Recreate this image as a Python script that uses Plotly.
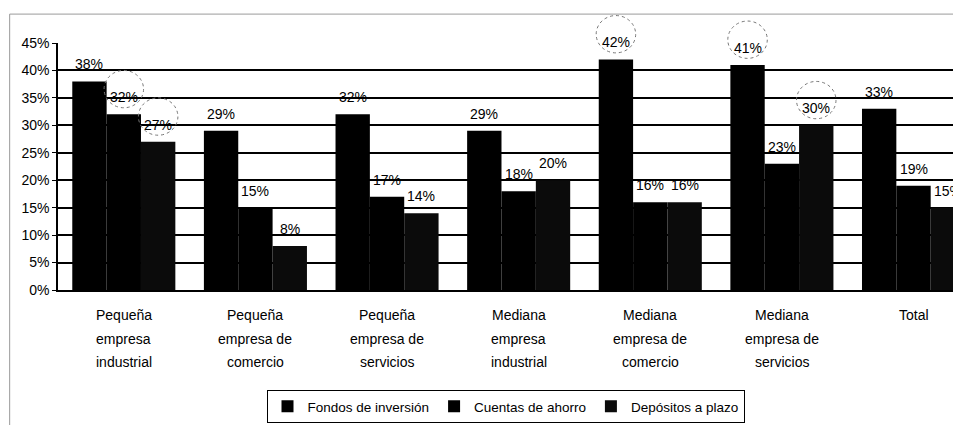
import plotly.graph_objects as go

CATEGORIAS = [
    ["Pequeña", "empresa", "industrial"],
    ["Pequeña", "empresa de", "comercio"],
    ["Pequeña", "empresa de", "servicios"],
    ["Mediana", "empresa", "industrial"],
    ["Mediana", "empresa de", "comercio"],
    ["Mediana", "empresa de", "servicios"],
    ["Total"],
]

FONDOS_INVERSION = [38, 29, 32, 29, 42, 41, 33]
CUENTAS_AHORRO = [32, 15, 17, 18, 16, 23, 19]
DEPOSITOS_PLAZO = [27, 8, 14, 20, 16, 30, 15]

SERIES = [
    ("Fondos de inversión", FONDOS_INVERSION, "#000000"),
    ("Cuentas de ahorro", CUENTAS_AHORRO, "#000000"),
    ("Depósitos a plazo", DEPOSITOS_PLAZO, "#0b0b0b"),
]

# etiquetas marcadas con un círculo punteado: (categoría, serie)
RESALTADOS = [(0, 1), (0, 2), (4, 0), (5, 0), (5, 2)]

Y_TICKS = [0, 5, 10, 15, 20, 25, 30, 35, 40, 45]
Y_MAX = 45

BARGAP = 0.217
FUENTE = "Arial, Liberation Sans, sans-serif"

fig = go.Figure()

for nombre, valores, color in SERIES:
    fig.add_trace(
        go.Bar(
            x=list(range(len(CATEGORIAS))),
            y=valores,
            name=nombre,
            marker=dict(color=color, line=dict(width=0)),
            hovertemplate="%{y}%<extra>" + nombre + "</extra>",
        )
    )

ancho_barra = (1 - BARGAP) / len(SERIES)

# etiquetas de datos, algo separadas de la barra como en el original
for s, (nombre, valores, color) in enumerate(SERIES):
    for i, v in enumerate(valores):
        fig.add_annotation(
            x=i + (s - 1) * ancho_barra,
            y=v,
            xref="x",
            yref="y",
            text=f"{v}%",
            showarrow=False,
            yanchor="bottom",
            yshift=7,
            font=dict(family=FUENTE, size=14, color="black"),
        )

for cat, serie in RESALTADOS:
    valor = SERIES[serie][1][cat]
    cx = cat + (serie - 1) * ancho_barra
    cy = (valor + 4.6) / Y_MAX
    fig.add_shape(
        type="circle",
        xref="x",
        yref="paper",
        x0=cx - 0.15,
        x1=cx + 0.15,
        y0=cy - 3.4 / Y_MAX,
        y1=cy + 3.4 / Y_MAX,
        line=dict(color="#777777", width=1, dash="dot"),
        layer="above",
    )

# etiquetas de categoría, una línea por anotación (interlineado del original)
for i, lineas in enumerate(CATEGORIAS):
    for j, linea in enumerate(lineas):
        fig.add_annotation(
            x=i,
            y=0,
            xref="x",
            yref="paper",
            text=linea,
            showarrow=False,
            yanchor="top",
            yshift=-15 - j * 23.5,
            font=dict(family=FUENTE, size=14, color="black"),
        )

# marco exterior del gráfico
fig.add_shape(
    type="rect",
    xref="paper",
    yref="paper",
    x0=-0.054,
    x1=1.2,
    y0=-0.6,
    y1=1.117,
    line=dict(color="#9a9a9a", width=1),
)

fig.update_layout(
    width=953,
    height=425,
    margin=dict(l=58, r=0, t=43, b=135),
    paper_bgcolor="white",
    plot_bgcolor="white",
    barmode="group",
    bargap=BARGAP,
    bargroupgap=0,
    font=dict(family=FUENTE, size=14, color="black"),
    showlegend=True,
    legend=dict(
        orientation="h",
        x=0.5,
        xanchor="center",
        y=-0.405,
        yanchor="top",
        bordercolor="black",
        borderwidth=1,
        font=dict(family=FUENTE, size=13.5, color="black"),
        itemwidth=30,
        tracegroupgap=0,
    ),
)

fig.update_xaxes(
    tickmode="array",
    tickvals=list(range(len(CATEGORIAS))),
    showticklabels=False,
    range=[-0.5, 6.3],
    showline=True,
    linecolor="black",
    linewidth=1.5,
    ticks="",
    showgrid=False,
)

fig.update_yaxes(
    range=[0, Y_MAX],
    tickmode="array",
    tickvals=Y_TICKS,
    ticktext=[f"{v}%" for v in Y_TICKS],
    showline=True,
    linecolor="black",
    linewidth=1.5,
    ticks="outside",
    ticklen=4,
    tickcolor="black",
    showgrid=True,
    gridcolor="black",
    gridwidth=1.5,
    zeroline=False,
    tickfont=dict(family=FUENTE, size=14, color="black"),
)

fig.write_html(
    "out.html",
    config={"displayModeBar": False},
    post_script="document.body.style.margin='0';document.body.style.overflow='hidden';",
)
